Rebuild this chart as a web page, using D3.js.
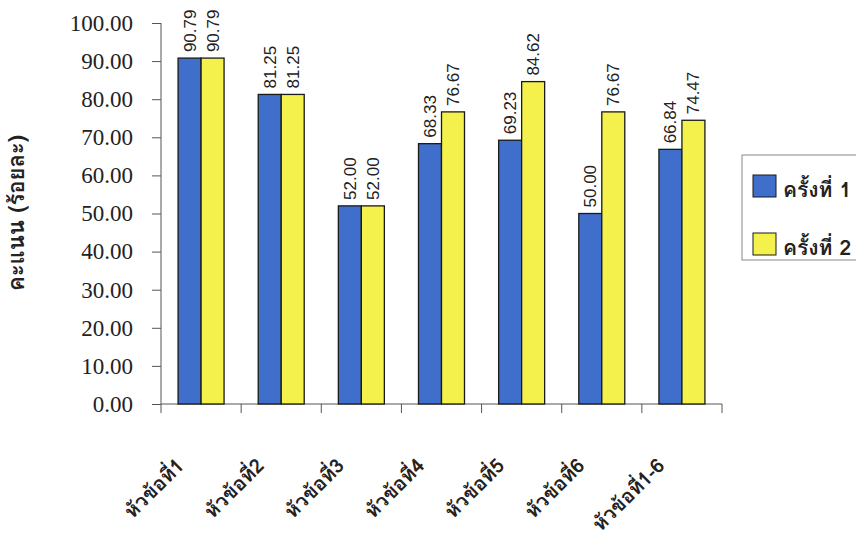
<!DOCTYPE html>
<html lang="th">
<head>
<meta charset="UTF-8"/>
<title>คะแนน ครั้งที่ 1 / ครั้งที่ 2</title>
<script src="https://d3js.org/d3.v7.min.js"></script>
<style>
  body { margin: 0; background: #fff; }
</style>
</head>
<body>
<script>
// data
var categories = ["หัวข้อที่1", "หัวข้อที่2", "หัวข้อที่3", "หัวข้อที่4", "หัวข้อที่5", "หัวข้อที่6", "หัวข้อที่1-6"];
var seriesNames = ["ครั้งที่ 1", "ครั้งที่ 2"];
var round1 = [90.79, 81.25, 52.00, 68.33, 69.23, 50.00, 66.84];
var round2 = [90.79, 81.25, 52.00, 76.67, 84.62, 76.67, 74.47];
var yTicks = [0, 10, 20, 30, 40, 50, 60, 70, 80, 90, 100];
var colors = ["#3f6fcb", "#f4f04c"];

var w = 856, h = 540;
var padLeft = 161, padRight = 722, padTop = 23, padBottom = 404;
var pairW = 46;
var thaiFont = "Norasi, Kinnari, Loma, Garuda, 'Noto Serif Thai', 'Noto Sans Thai', sans-serif";

var svg = d3.select("body").append("svg")
    .attr("width", w)
    .attr("height", h);

var x = d3.scaleBand()
    .domain(categories)
    .range([padLeft, padRight]);

var x1 = d3.scaleBand()
    .domain(seriesNames)
    .range([0, pairW]);

var y = d3.scaleLinear()
    .domain([0, 100])
    .range([padBottom, padTop]);

// y axis
var yAxis = svg.append("g")
    .attr("transform", "translate(" + padLeft + ",0)")
    .call(d3.axisLeft(y).tickValues(yTicks).tickSize(9).tickPadding(19)
        .tickFormat(function(d){ return d.toFixed(2); }));
yAxis.select(".domain").attr("d", "M0," + padTop + "V" + padBottom);
yAxis.selectAll("path, line").attr("stroke", "#555");
yAxis.selectAll("text")
    .attr("font-family", "'Liberation Serif', 'DejaVu Serif', serif")
    .attr("font-size", 23)
    .attr("fill", "#222");

// x axis
var xAxis = svg.append("g")
    .attr("transform", "translate(0," + padBottom + ")");
xAxis.append("line")
    .attr("x1", padLeft).attr("x2", padRight)
    .attr("stroke", "#555");
xAxis.selectAll(".tick")
    .data(d3.range(categories.length + 1))
    .enter().append("line")
    .attr("x1", function(i){ return padLeft + i * x.step(); })
    .attr("x2", function(i){ return padLeft + i * x.step(); })
    .attr("y1", 0).attr("y2", 9)
    .attr("stroke", "#555");

// x labels rotated
svg.selectAll(".x_label")
    .data(categories)
    .enter().append("text")
    .attr("class", "x_label")
    .attr("text-anchor", "end")
    .attr("font-family", thaiFont)
    .attr("font-weight", "bold")
    .attr("font-size", 20)
    .attr("fill", "#222")
    .attr("transform", function(d){
        return "translate(" + (x(d) + x.bandwidth() / 2 - 16) + ",467) rotate(-45)";
    })
    .text(function(d){ return d; });

// bars
var series = [round1, round2];
series.forEach(function(vals, s){
    var g = svg.append("g");
    g.selectAll("rect")
        .data(vals)
        .enter().append("rect")
        .attr("x", function(d, i){ return x(categories[i]) + (x.bandwidth() - pairW) / 2 + x1(seriesNames[s]); })
        .attr("y", function(d){ return y(d); })
        .attr("width", x1.bandwidth())
        .attr("height", function(d){ return padBottom - y(d); })
        .attr("fill", colors[s])
        .attr("stroke", "#1a1a1a")
        .attr("stroke-width", 1.3);

    g.selectAll("text")
        .data(vals)
        .enter().append("text")
        .attr("transform", function(d, i){
            var cx = x(categories[i]) + (x.bandwidth() - pairW) / 2 + x1(seriesNames[s]) + x1.bandwidth() / 2;
            return "translate(" + (cx + 6) + "," + (y(d) - 6) + ") rotate(-90)";
        })
        .attr("text-anchor", "start")
        .attr("font-family", "'Liberation Sans', Arial, sans-serif")
        .attr("font-size", 17)
        .attr("fill", "#222")
        .text(function(d){ return d.toFixed(2); });
});

// y axis title
svg.append("text")
    .attr("transform", "translate(24,213) rotate(-90)")
    .attr("text-anchor", "middle")
    .attr("font-family", thaiFont)
    .attr("font-weight", "bold")
    .attr("font-size", 22)
    .attr("fill", "#222")
    .text("คะแนน (ร้อยละ)");

// legend
var legend = svg.append("g");
legend.append("rect")
    .attr("x", 742).attr("y", 155)
    .attr("width", 130).attr("height", 105)
    .attr("fill", "#fff")
    .attr("stroke", "#888");
seriesNames.forEach(function(name, i){
    legend.append("rect")
        .attr("x", 753).attr("y", 175 + i * 58)
        .attr("width", 23).attr("height", 22)
        .attr("fill", colors[i])
        .attr("stroke", "#1a1a1a");
    legend.append("text")
        .attr("x", 783).attr("y", 197 + i * 58)
        .attr("font-family", thaiFont)
        .attr("font-weight", "bold")
        .attr("font-size", 21)
        .attr("fill", "#222")
        .text(name);
});
</script>
</body>
</html>
